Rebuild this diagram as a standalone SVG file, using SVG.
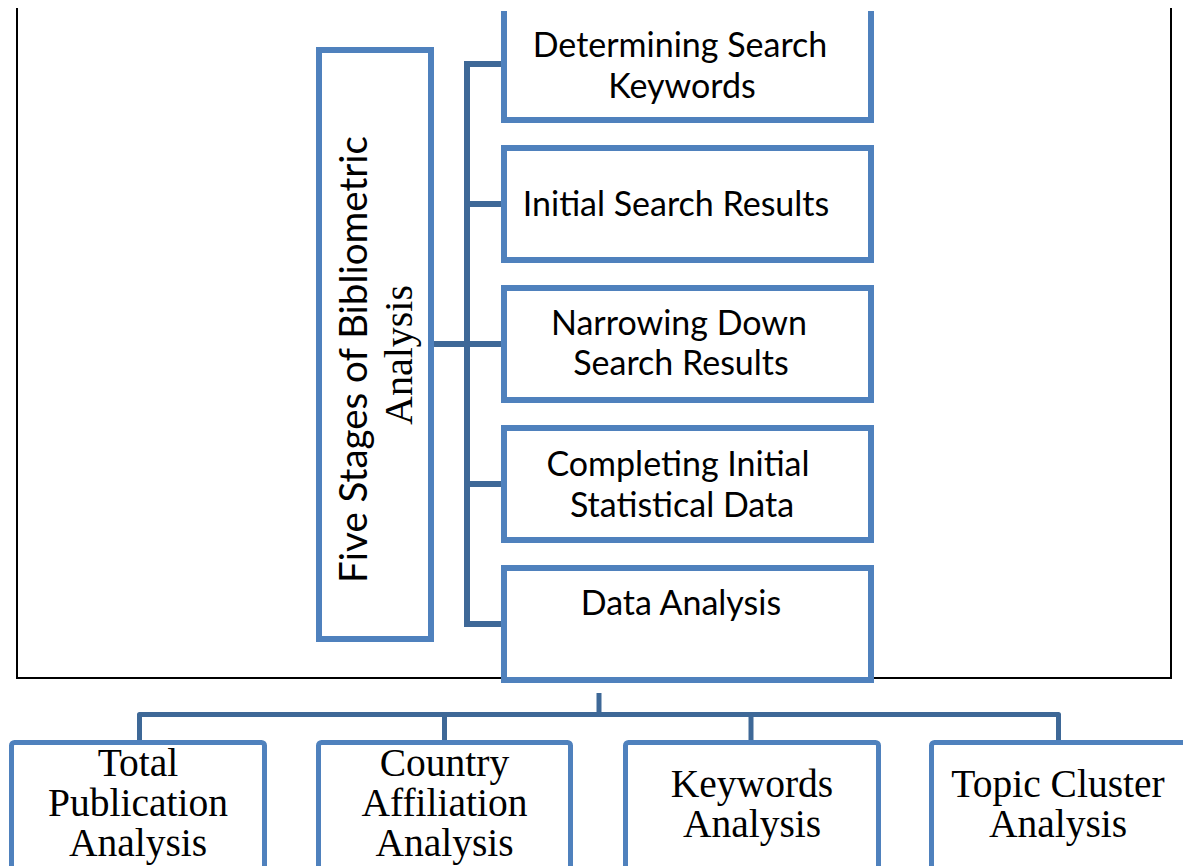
<svg xmlns="http://www.w3.org/2000/svg" width="1183" height="866" viewBox="0 0 1183 866">
  <style>
    .box { fill: #ffffff; stroke: #4F81BD; stroke-width: 6; }
    .sub { fill: #ffffff; stroke: #4F81BD; stroke-width: 5; }
    .link { fill: none; stroke: #3E6897; stroke-width: 6; stroke-linejoin: miter; }
    .link2 { fill: none; stroke: #3E6897; stroke-width: 5; stroke-linejoin: round; }
    .frame { fill: none; stroke: #000000; stroke-width: 2; }
    .sans { font-family: Lato, "Open Sans", sans-serif; font-size: 34px; fill: #000000; text-anchor: middle; }
    .serif { font-family: "Liberation Serif", "Times New Roman", serif; font-size: 39.5px; fill: #000000; text-anchor: middle; }
    .title-main { font-size: 38.5px; }
    .title-sub { font-size: 40px; }
  </style>
  <defs>
    <clipPath id="topCut">
      <rect x="0" y="11" width="1183" height="855"/>
    </clipPath>
  </defs>

  <rect width="1183" height="866" fill="#ffffff"/>

  <!-- open frame around the five stages -->
  <path class="frame" d="M17,8 V678 H1171 V8"/>

  <!-- connectors -->
  <g id="connectors">
    <path class="link" d="M504,64 H467 V624 H504"/>
    <path class="link" d="M467,204 H504"/>
    <path class="link" d="M431,344 H504"/>
    <path class="link" d="M467,484 H504"/>
    <path class="link2" d="M599,693 V714.5"/>
    <path class="link2" d="M139.5,742 V714.5 H1058.5 V742"/>
    <path class="link2" d="M444.5,714.5 V742"/>
    <path class="link2" d="M751,714.5 V742"/>
  </g>

  <!-- title column -->
  <g id="title">
    <rect class="box" x="319" y="50" width="112" height="589"/>
    <text class="sans title-main" transform="translate(367,359.5) rotate(-90)">Five Stages of Bibliometric</text>
    <text class="serif title-sub" transform="translate(412,355) rotate(-90)">Analysis</text>
  </g>

  <!-- stages -->
  <g id="stage1">
    <rect class="box" x="504" y="8" width="367" height="112" clip-path="url(#topCut)"/>
    <text class="sans" x="680" y="57">Determining Search</text>
    <text class="sans" x="682" y="98">Keywords</text>
  </g>
  <g id="stage2">
    <rect class="box" x="504" y="148" width="367" height="112"/>
    <text class="sans" x="676" y="216">Initial Search Results</text>
  </g>
  <g id="stage3">
    <rect class="box" x="504" y="288" width="367" height="112"/>
    <text class="sans" x="679" y="335">Narrowing Down</text>
    <text class="sans" x="681" y="375">Search Results</text>
  </g>
  <g id="stage4">
    <rect class="box" x="504" y="428" width="367" height="112"/>
    <text class="sans" x="678" y="476">Completing Initial</text>
    <text class="sans" x="682" y="517">Statistical Data</text>
  </g>
  <g id="stage5">
    <rect class="box" x="504" y="568" width="367" height="112"/>
    <text class="sans" x="681" y="615">Data Analysis</text>
  </g>

  <!-- analysis branches -->
  <g id="total-publication">
    <rect class="sub" x="11.5" y="742.5" width="253" height="160" rx="3"/>
    <text class="serif" x="138" y="776">Total</text>
    <text class="serif" x="138" y="816">Publication</text>
    <text class="serif" x="138" y="856">Analysis</text>
  </g>
  <g id="country-affiliation">
    <rect class="sub" x="318.5" y="742.5" width="252" height="160" rx="3"/>
    <text class="serif" x="444.5" y="776">Country</text>
    <text class="serif" x="444.5" y="816">Affiliation</text>
    <text class="serif" x="444.5" y="856">Analysis</text>
  </g>
  <g id="keywords">
    <rect class="sub" x="625.5" y="742.5" width="253" height="160" rx="3"/>
    <text class="serif" x="752" y="797">Keywords</text>
    <text class="serif" x="752" y="837">Analysis</text>
  </g>
  <g id="topic-cluster">
    <rect class="sub" x="931.5" y="742.5" width="260" height="160" rx="3"/>
    <text class="serif" x="1058" y="797">Topic Cluster</text>
    <text class="serif" x="1058" y="837">Analysis</text>
  </g>
</svg>
